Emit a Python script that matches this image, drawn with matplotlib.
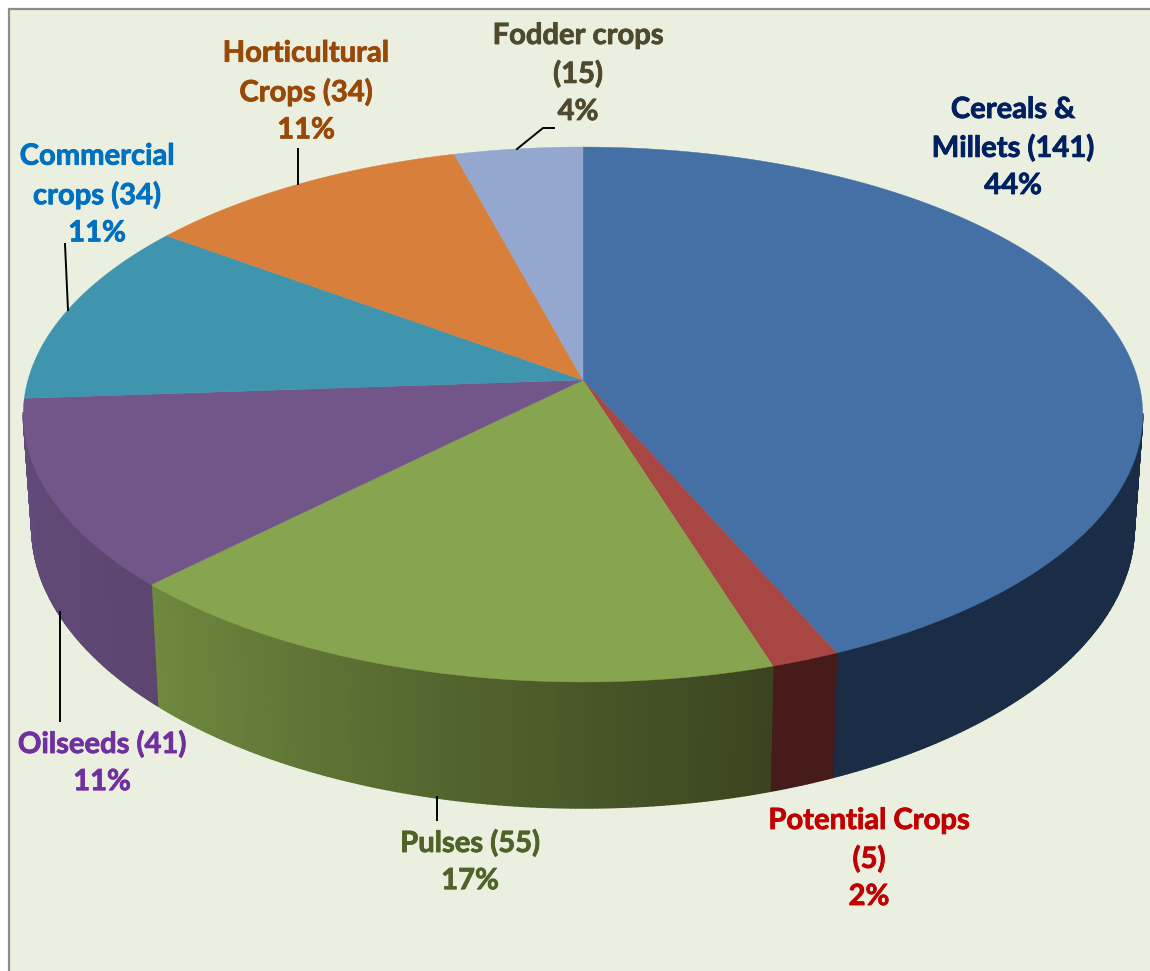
"""3D style pie of crop groups, drawn on a pixel-sized axes."""

import numpy as np
import matplotlib
matplotlib.use("Agg")
import matplotlib.pyplot as plt
import matplotlib.patheffects as pe

categories = ["Cereals &\nMillets", "Potential Crops\n", "Pulses", "Oilseeds",
              "Commercial\ncrops", "Horticultural\nCrops", "Fodder crops\n"]
counts = [141, 5, 55, 41, 34, 34, 15]
percent_labels = ["44%", "2%", "17%", "11%", "11%", "11%", "4%"]
# slice sizes, they do not follow the counts exactly
slice_shares = [43.4, 1.75, 17.35, 11.4, 11.15, 10.75, 4.2]

top_colors = ["#4570A5", "#A84644", "#87A44E", "#72568A", "#3F94AE", "#D87F3C", "#93A7CF"]
wall_start = ["#1A2C46", "#461B19", "#3A441F", "#5C4670", "#2A6375", "#8F5426", "#616F8A"]
wall_end = ["#1A2C46", "#461B19", "#6F8A3F", "#644B7B", "#2A6375", "#8F5426", "#616F8A"]
text_colors = ["#002060", "#C00000", "#4F6228", "#7030A0", "#0070C0", "#984807", "#4F4A2E"]
label_pos = [(1013, 148), (869, 859), (470, 862), (102, 763), (97, 195), (306, 92), (578, 74)]

leaders = [
    ([65, 68], [244, 310]),
    ([298, 298], [149, 184]),
    ([554, 543, 517], [128, 128, 149]),
    ([60, 60], [721, 612]),
    ([437, 437], [797, 820]),
]

BG = "#EAEFDF"
CX, CY = 583, 380
RX, RY, K = 555, 263, 0.129


def rim(t, lower=False):
    # t is clockwise from 12 o'clock, projected with a little perspective
    px, py = np.sin(t), np.cos(t)
    w = 1 + K * py
    x = RX * px / w
    y = -RY * py / w
    if lower:
        return CX + x * 0.985, CY + y * 1.05 + 111
    return CX + x, CY + y


def mix(c1, c2, f):
    a = np.array(matplotlib.colors.to_rgb(c1))
    b = np.array(matplotlib.colors.to_rgb(c2))
    return tuple(a + (b - a) * f)


plt.rcParams["font.family"] = ["Lato", "DejaVu Sans"]
fig = plt.figure(figsize=(11.5, 9.71), dpi=100, facecolor="white")
ax = fig.add_axes([0, 0, 1, 1])
ax.set_xlim(0, 1150)
ax.set_ylim(971, 0)
ax.axis("off")

# panel background with its grey border on the left and top only
ax.fill([8, 1150, 1150, 8], [9, 9, 971, 971], color=BG, lw=0)
ax.plot([8.5, 8.5, 1150], [971, 9.5, 9.5], color="#8C8C8C", lw=1.6, solid_joinstyle="miter")

edges = np.cumsum([0] + slice_shares) / sum(slice_shares) * 2 * np.pi

# side walls first, only the part that faces the viewer
for i in range(len(slice_shares)):
    n = max(int((edges[i + 1] - edges[i]) / np.radians(0.5)), 1)
    ts = np.linspace(edges[i], edges[i + 1], n + 1)
    for j in range(n):
        if np.cos(ts[j]) > -K and np.cos(ts[j + 1]) > -K:
            continue
        seg = np.linspace(ts[j], ts[j + 1], 3)
        xa, ya = rim(seg)
        xb, yb = rim(seg[::-1], lower=True)
        col = mix(wall_start[i], wall_end[i], j / n)
        ax.fill(np.r_[xa, xb], np.r_[ya, yb], color=col, lw=1.0)

for i in range(len(slice_shares)):
    ts = np.linspace(edges[i], edges[i + 1], 300)
    x, y = rim(ts)
    ax.fill(np.r_[CX, x], np.r_[CY, y], color=top_colors[i], lw=0.3)

for xs, ys in leaders:
    ax.plot(xs, ys, color="black", lw=1.4)

for i, name in enumerate(categories):
    sep = "" if name.endswith("\n") else " "
    label = f"{name}{sep}({counts[i]})\n{percent_labels[i]}"
    txt = ax.text(label_pos[i][0], label_pos[i][1], label, color=text_colors[i],
                  fontsize=21, fontweight="bold", ha="center", va="center",
                  linespacing=1.53, multialignment="center")
    txt.set_path_effects([pe.withStroke(linewidth=0.6, foreground=text_colors[i])])

fig.savefig("out.png", dpi=100, facecolor="white")
